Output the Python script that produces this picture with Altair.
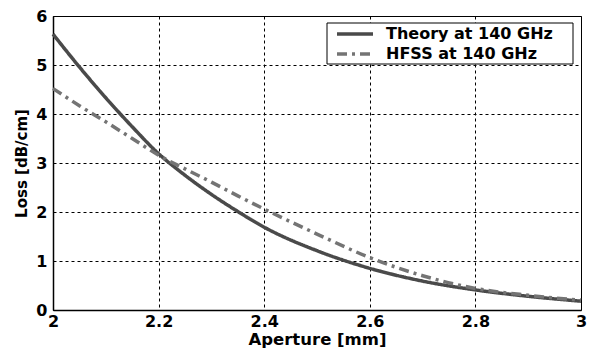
import altair as alt
import pandas as pd

aperture = [2.0, 2.05, 2.1, 2.15, 2.2, 2.25, 2.3, 2.35, 2.4, 2.5, 2.6, 2.7, 2.8, 2.9, 3.0]
theory = [5.63, 4.96, 4.33, 3.74, 3.19, 2.75, 2.36, 2.01, 1.69, 1.21, 0.85, 0.59, 0.41, 0.28, 0.18]
hfss = [4.52, 4.17, 3.84, 3.50, 3.16, 2.88, 2.61, 2.33, 2.06, 1.55, 1.07, 0.70, 0.44, 0.30, 0.20]
series_names = ["Theory at 140 GHz", "HFSS at 140 GHz"]
series_colors = ["#4a4a4a", "#747474"]
series_dashes = [[1, 0], [10, 5, 3, 5]]
x_ticks = [2, 2.2, 2.4, 2.6, 2.8, 3]
y_ticks = [0, 1, 2, 3, 4, 5, 6]

rows = []
for a, t, h in zip(aperture, theory, hfss):
    rows.append({"Aperture": a, "Loss": t, "Series": series_names[0]})
    rows.append({"Aperture": a, "Loss": h, "Series": series_names[1]})
df = pd.DataFrame(rows)

FONT = "DejaVu Sans"

lines = alt.Chart(df).mark_line(strokeWidth=3.5, interpolate="monotone").encode(
    x=alt.X("Aperture:Q", scale=alt.Scale(domain=[2, 3], nice=False),
            axis=alt.Axis(values=x_ticks, format="~g", title="Aperture [mm]")),
    y=alt.Y("Loss:Q", scale=alt.Scale(domain=[0, 6], nice=False),
            axis=alt.Axis(values=y_ticks, title="Loss [dB/cm]")),
    color=alt.Color("Series:N", sort=series_names,
                    scale=alt.Scale(domain=series_names, range=series_colors), legend=None),
    strokeDash=alt.StrokeDash("Series:N", sort=series_names,
                              scale=alt.Scale(domain=series_names, range=series_dashes),
                              legend=None),
)

one = alt.Data(values=[{"k": 1}])

legend_box = alt.Chart(one).mark_rect(fill="white", stroke="black", strokeWidth=1).encode(
    x=alt.value(274), x2=alt.value(520), y=alt.value(7), y2=alt.value(48)
)

legend_layers = [legend_box]
row_y = [18, 38]
for i, name in enumerate(series_names):
    legend_layers.append(
        alt.Chart(one).mark_rule(strokeWidth=3.5, color=series_colors[i],
                                 strokeDash=series_dashes[i]).encode(
            x=alt.value(284), x2=alt.value(320), y=alt.value(row_y[i])
        )
    )
    legend_layers.append(
        alt.Chart(one).mark_text(text=name, align="left", baseline="middle",
                                 font=FONT, fontSize=16, fontWeight="bold",
                                 color="black").encode(
            x=alt.value(333), y=alt.value(row_y[i])
        )
    )

chart = alt.layer(lines, *legend_layers).properties(
    width=528, height=294,
    autosize=alt.AutoSizeParams(type="none"),
    padding={"left": 53, "top": 16, "right": 9, "bottom": 41},
    background="white",
).configure_view(
    stroke="black", strokeWidth=1
).configure_axis(
    grid=True, gridColor="black", gridDash=[3, 3], gridWidth=1, gridOpacity=1,
    ticks=False, domainColor="black", domainWidth=1.5,
    labelFont=FONT, labelFontSize=16, labelFontWeight="bold", labelColor="black",
    titleFont=FONT, titleFontWeight="bold", titleColor="black",
)\
.configure_axisX(labelPadding=3, titlePadding=2, labelFlush=False, titleFontSize=16.5)\
.configure_axisY(labelPadding=6, titlePadding=6, titleFontSize=15)

chart.save("out.html", embed_options={"renderer": "svg", "actions": False})
